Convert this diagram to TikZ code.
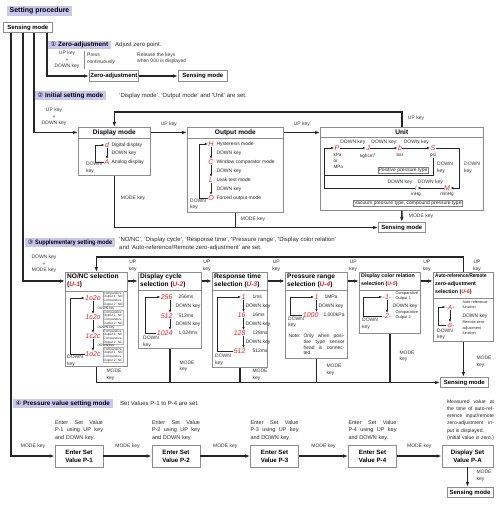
\documentclass[tikz,border=0pt]{standalone}
\usepackage{fontspec}
\setmainfont{Liberation Sans}
\newfontfamily\symfont{DejaVu Sans}
\usetikzlibrary{arrows.meta, positioning, calc}
\definecolor{hl}{RGB}{200,200,238}
\definecolor{segred}{RGB}{232,32,40}
\newcommand{\circnum}[1]{{\symfont\mdseries #1}}
\newcommand{\segtxt}[1]{\textcolor{segred}{\itshape #1}}
\newcommand{\narrow}[1]{\scalebox{0.88}[1]{#1}}

\tikzset{
  tag/.style={fill=hl, anchor=west, inner xsep=2.5bp, inner ysep=1.4bp, font=\bfseries\fontsize{6.4}{7}\selectfont},
  note/.style={anchor=west, inner sep=0bp, align=left, font=\fontsize{6}{8}\selectfont, text=black!85},
  keylbl/.style={inner sep=0bp, align=center, font=\fontsize{5}{6.5}\selectfont, text=black!80},
  sbox/.style={draw=black!45, line width=0.7bp, fill=white, inner sep=1bp, minimum height=10.5bp, font=\bfseries\fontsize{6}{7}\selectfont},
  bigbox/.style={draw=black!45, line width=0.7bp, anchor=north west, inner sep=0bp},
  sep/.style={draw=black!45, line width=0.6bp},
  hdr/.style={anchor=north west, inner sep=0bp, align=left, font=\bfseries\fontsize{6.6}{8}\selectfont},
  flow/.style={draw=black!85, line width=1.4bp},
  arr/.style={flow, -{Latex[length=5bp, width=3.6bp]}},
  loopline/.style={draw=black!85, line width=0.7bp},
  loop/.style={loopline, -{Latex[length=3bp, width=2.4bp]}},
  item/.style={anchor=west, inner sep=0.3bp, align=left, font=\fontsize{5}{5.8}\selectfont, text=black!85},
  tiny/.style={anchor=west, inner sep=0.4bp, align=left, draw=black!30, line width=0.25bp, font=\fontsize{3.2}{3.8}\selectfont, text=black!80},
  seg/.style={inner sep=0.3bp, text=segred, font=\itshape\fontsize{7}{7}\selectfont},
  framed/.style={draw=black!50, line width=0.4bp, fill=white, inner sep=0.8bp, font=\fontsize{5}{5.5}\selectfont, text=black!85},
  vbox/.style={draw=black!45, line width=0.7bp, fill=white, minimum width=48bp, minimum height=22bp, align=center, inner sep=1bp, font=\bfseries\fontsize{6.2}{8}\selectfont},
  desc/.style={inner sep=0bp, text width=48bp, align=left, font=\fontsize{5.5}{7.5}\selectfont, text=black!85}
}

\begin{document}
\begin{tikzpicture}[x=1bp, y=-1bp]
  \useasboundingbox (0,0) rectangle (500,508);

  % Heading
  \node[tag, font=\bfseries\fontsize{7}{8}\selectfont] (title) at (7,11) {Setting procedure};
  \node[sbox, anchor=north west, minimum width=49bp] (sens0) at (3,22) {Sensing mode};

  % (1) Zero-adjustment
  \node[tag] (t1) at (48,45) {\circnum{①} Zero-adjustment};
  \node[note] (t1d) at (115,45) {Adjust zero point.};
  \node[keylbl] (k1) at (67,60) {UP key\\+\\DOWN key};
  \draw[black!45, line width=0.4bp] ([xshift=5bp]k1.north east) -- ([xshift=5bp]k1.south east);
  \node[keylbl, align=left, anchor=west] (press) at (87,59) {Press\\continuously};
  \node[keylbl, align=left, anchor=west] (rel) at (137,58) {Release the keys\\when 000 is displayed};
  \node[sbox, anchor=west, minimum width=49bp] (zadj) at (89,76) {Zero-adjustment};
  \node[sbox, anchor=west, minimum width=49bp] (sens1) at (178,76) {Sensing mode};
  \draw[arr] ([xshift=44bp]sens0.south west) |- (zadj.west);
  \draw[arr] (zadj) -- (sens1);

  % (2) Initial setting mode
  \node[tag] (t2) at (35,95.5) {\circnum{②} Initial setting mode};
  \node[note] (t2d) at (119,96) {‘Display mode’, ‘Output mode’ and ‘Unit’ are set.};
  \node[keylbl] (k2) at (54,117) {UP key\\+\\DOWN key};

  % Display mode
  \node[bigbox, minimum width=72bp, minimum height=48bp] (disp) at (78,127) {};
  \draw[sep] ([yshift=-11bp]disp.north west) -- ([yshift=-11bp]disp.north east);
  \node[hdr, anchor=center] (dispH) at ($(disp.north)+(0,5.5)$) {Display mode};
  \node[seg] (dDig) at (107,145) {d};
  \node[item] (dDigT) at (111,145) {Digital display};
  \node[item] (dDn) at (111,153.5) {DOWN key};
  \node[seg] (dAna) at (107,162) {A};
  \node[item] (dAnaT) at (111,162) {Analog display};
  \draw[loop] (dDig) -- (dAna);
  \draw[loop] (dAna.west) -- ++(-9,0) |- (dDig.west);
  \node[keylbl, align=left, anchor=west] (dLoop) at (86,168) {DOWN\\key};

  % Output mode
  \node[bigbox, minimum width=96bp, minimum height=85bp] (out) at (187,127) {};
  \draw[sep] ([yshift=-11bp]out.north west) -- ([yshift=-11bp]out.north east);
  \node[hdr, anchor=center] (outH) at ($(out.north)+(0,5.5)$) {Output mode};
  \node[seg] (oH) at (211,144) {H};
  \node[item] (oHT) at (216,144) {Hysteresis mode};
  \node[item] (oD1) at (216,153) {DOWN key};
  \node[seg] (oW) at (211,162) {C};
  \node[item] (oWT) at (216,162) {Window comparator mode};
  \node[item] (oD2) at (216,171) {DOWN key};
  \node[seg] (oL) at (211,180) {L};
  \node[item] (oLT) at (216,180) {Leak test mode};
  \node[item] (oD3) at (216,189) {DOWN key};
  \node[seg] (oF) at (211,198) {O};
  \node[item] (oFT) at (216,198) {Forced output mode};
  \draw[loop] (oH) -- (oW);
  \draw[loop] (oW) -- (oL);
  \draw[loop] (oL) -- (oF);
  \draw[loop] (oF.west) -- ++(-8,0) |- (oH.west);
  \node[keylbl, align=left, anchor=west] (oLoop) at (190,204.5) {DOWN\\key};

  % Unit
  \node[bigbox, minimum width=163bp, minimum height=83bp] (unit) at (320,127) {};
  \draw[sep] ([yshift=-10bp]unit.north west) -- ([yshift=-10bp]unit.north east);
  \node[hdr, anchor=center] (unitH) at ($(unit.north)+(0,5)$) {Unit};
  \node[seg] (uP) at (337,148) {P};
  \node[seg] (uJ) at (368,148) {J};
  \node[seg] (uB) at (400,148) {b};
  \node[seg] (uS) at (433,148) {S};
  \node[item, anchor=north west, font=\fontsize{4.6}{6}\selectfont] (uPl) at (333,153) {kPa\\or\\MPa};
  \node[item, anchor=north, font=\fontsize{4.6}{6}\selectfont] (uJl) at (368,153) {kgf/cm\textsuperscript{2}};
  \node[item, anchor=north, font=\fontsize{4.6}{6}\selectfont] (uBl) at (400,153) {bar};
  \node[item, anchor=north, font=\fontsize{4.6}{6}\selectfont] (uSl) at (433,153) {psi};
  \draw[loop] (uP) -- (uJ) node[keylbl, midway, yshift=6bp] (uD1) {DOWN key};
  \draw[loop] (uJ) -- (uB) node[keylbl, midway, yshift=6bp] (uD2) {DOWN key};
  \draw[loop] (uB) -- (uS) node[keylbl, midway, yshift=6bp] (uD3) {DOWN key};
  \node[seg] (uM) at (447,188) {M};
  \node[seg] (uI) at (416,188) {i};
  \node[item, anchor=north, font=\fontsize{4.6}{6}\selectfont] (uIl) at (416,192) {inHg};
  \node[item, anchor=north, font=\fontsize{4.6}{6}\selectfont] (uMl) at (447,192) {mmHg};
  \draw[loop] (uS.east) -- ++(24,0) |- (uM.east);
  \draw[loop] (uM) -- (uI) node[keylbl, midway, yshift=5.5bp] (uD5) {DOWN key};
  \node[keylbl] (uD4) at (400,182.5) {DOWN key};
  \draw[loop] (uI.west) -| ([xshift=-9.5bp]uP.west) -- (uP.west);
  \draw[loopline] (uSl.south) -- ++(0,17) -| ([xshift=-9.5bp]uP.west);
  \node[keylbl, align=left, anchor=west] (uInner) at (437,168) {DOWN\\key};
  \node[keylbl, align=left, anchor=west] (uOuter) at (464,168) {DOWN\\key};
  \node[framed] (posT) at (403,170) {Positive pressure type};
  \node[framed] (vacT) at (408,203.5) {Vacuum pressure type, compound pressure type};

  % Initial mode connectors
  \draw[arr] ([xshift=31bp]sens0.south west) |- (disp.west |- dispH);
  \draw[arr] (disp.east |- dispH) -- (out.west |- dispH) node[keylbl, midway, yshift=8bp] (kDO) {UP key};
  \draw[arr] (out.east |- dispH) -- (unit.west |- dispH) node[keylbl, midway, yshift=8bp] (kOU) {UP key};
  \draw[arr] ([xshift=82bp]unit.north west) -- ++(0,-15) -| (disp.north);
  \node[keylbl] (kUD) at (416,118.5) {UP key};
  \node[sbox, anchor=west, minimum width=47bp] (sens2) at (378,227.5) {Sensing mode};
  \draw[arr] (disp.south) |- (sens2.west);
  \draw[flow] (out.south) -- (out.south |- sens2.west);
  \draw[arr] (unit.south) -- (sens2.north);
  \node[keylbl] (mD) at (133,198) {MODE key};
  \node[keylbl] (mO) at (253,219) {MODE key};
  \node[keylbl] (mU) at (421,216) {MODE key};

  % (3) Supplementary setting mode
  \node[tag] (t3) at (25,242.5) {\circnum{③} \narrow{Supplementary setting mode}};
  \node[note, anchor=north west] (t3d) at (119,236.5) {‘NO/NC’, ‘Display cycle’, ‘Response time’, ‘Pressure range’, ‘Display color relation’\\and ‘Auto-reference/Remote zero-adjustment’ are set.};
  \node[keylbl] (k3) at (44,264) {DOWN key\\+\\MODE key};
  \coordinate (r3) at (0,281);

  % NO/NC selection
  \node[bigbox, minimum width=62bp, minimum height=94bp] (nonc) at (65,272) {};
  \draw[sep] ([yshift=-19bp]nonc.north west) -- ([yshift=-19bp]nonc.north east);
  \node[hdr] (noncH) at ([xshift=2bp,yshift=-1.5bp]nonc.north west) {NO/NC selection\\(\segtxt{U-1})};
  \node[seg] (n1) at (93,298) {1o2o};
  \node[seg] (n2) at (93,317) {1c2o};
  \node[seg] (n3) at (93,336) {1c2c};
  \node[seg] (n4) at (93,354) {1o2c};
  \node[tiny] (n1t) at (103,299) {Comparative\\Output 1: NO\\Comparative\\Output 2: NO};
  \node[tiny] (n2t) at (103,318) {Comparative\\Output 1: NC\\Comparative\\Output 2: NO};
  \node[tiny] (n3t) at (103,337) {Comparative\\Output 1: NC\\Comparative\\Output 2: NC};
  \node[tiny] (n4t) at (103,355) {Comparative\\Output 1: NO\\Comparative\\Output 2: NC};
  \draw[loop] (n1) -- (n2);
  \draw[loop] (n2) -- (n3);
  \draw[loop] (n3) -- (n4);
  \node[item, font=\fontsize{3.4}{4}\selectfont] (nd1) at (97,308.5) {DOWN key};
  \node[item, font=\fontsize{3.4}{4}\selectfont] (nd2) at (97,327.5) {DOWN key};
  \node[item, font=\fontsize{3.4}{4}\selectfont] (nd3) at (97,346) {DOWN key};
  \draw[loop] (n4.west) -- ($(n4.west -| nonc.west)+(5,0)$) |- (n1.west);
  \node[keylbl, align=left, anchor=west] (nLoop) at (67,361) {DOWN\\key};

  % Display cycle selection
  \node[bigbox, minimum width=63bp, minimum height=76bp] (dcyc) at (138,272) {};
  \draw[sep] ([yshift=-18bp]dcyc.north west) -- ([yshift=-18bp]dcyc.north east);
  \node[hdr] (dcycH) at ([xshift=2bp,yshift=-1.5bp]dcyc.north west) {Display cycle\\selection (\segtxt{U-2})};
  \node[seg, anchor=east] (c1) at (173,297) {256};
  \node[seg, anchor=east] (c2) at (173,316) {512};
  \node[seg, anchor=east] (c3) at (173,333) {1024};
  \node[item] (c1t) at (178,297) {256ms};
  \node[item] (c2t) at (178,316) {512ms};
  \node[item] (c3t) at (178,333) {1,024ms};
  \node[item] (cd1) at (175,306.5) {DOWN key};
  \node[item] (cd2) at (175,324.5) {DOWN key};
  \draw[loop] ([xshift=-3bp]c1.south east) -- ([xshift=-3bp]c2.north east);
  \draw[loop] ([xshift=-3bp]c2.south east) -- ([xshift=-3bp]c3.north east);
  \draw[loop] (c3.west) -- ($(c3.west -| dcyc.west)+(7,0)$) |- (c1.west);
  \node[keylbl, align=left, anchor=west] (cLoop) at (143,342) {DOWN\\key};

  % Response time selection
  \node[bigbox, minimum width=55bp, minimum height=95bp] (resp) at (212,272) {};
  \draw[sep] ([yshift=-18bp]resp.north west) -- ([yshift=-18bp]resp.north east);
  \node[hdr] (respH) at ([xshift=2bp,yshift=-1.5bp]resp.north west) {Response time\\selection (\segtxt{U-3})};
  \node[seg, anchor=east] (r1) at (246,297) {1};
  \node[seg, anchor=east] (r2) at (246,315) {16};
  \node[seg, anchor=east] (r3d) at (246,333) {128};
  \node[seg, anchor=east] (r4) at (246,351) {512};
  \node[item] (r1t) at (252,297) {1ms};
  \node[item] (r2t) at (252,315) {16ms};
  \node[item] (r3t) at (252,333) {128ms};
  \node[item] (r4t) at (252,351) {512ms};
  \node[item] (rd1) at (245,306) {DOWN key};
  \node[item] (rd2) at (245,324) {DOWN key};
  \node[item] (rd3) at (245,342) {DOWN key};
  \draw[loop] ([xshift=-2.5bp]r1.south east) -- ([xshift=-2.5bp]r2.north east);
  \draw[loop] ([xshift=-2.5bp]r2.south east) -- ([xshift=-2.5bp]r3d.north east);
  \draw[loop] ([xshift=-2.5bp]r3d.south east) -- ([xshift=-2.5bp]r4.north east);
  \draw[loop] (r4.west) -- ($(r4.west -| resp.west)+(5,0)$) |- (r1.west);
  \node[keylbl, align=left, anchor=west] (rLoop) at (215,360) {DOWN\\key};

  % Pressure range selection
  \node[bigbox, minimum width=62bp, minimum height=86bp] (press) at (285,272) {};
  \draw[sep] ([yshift=-18bp]press.north west) -- ([yshift=-18bp]press.north east);
  \node[hdr] (pressH) at ([xshift=2bp,yshift=-1.5bp]press.north west) {Pressure range\\selection (\segtxt{U-4})};
  \node[seg, anchor=east] (g1) at (319,297) {1};
  \node[seg, anchor=east] (g2) at (319,315) {1000};
  \node[item] (g1t) at (324,297) {1MPa};
  \node[item] (g2t) at (323,315) {1,000kPa};
  \node[item] (gd1) at (318,306) {DOWN key};
  \draw[loop] ([xshift=-2.5bp]g1.south east) -- ([xshift=-2.5bp]g2.north east);
  \draw[loop] (g2.west) -- ($(g2.west -| press.west)+(5,0)$) |- (g1.west);
  \node[keylbl, align=left, anchor=west] (gLoop) at (288,322.5) {DOWN\\key};
  \node[item] (gNote) at (288,336) {Note:};
  \node[item, anchor=north west, text width=41bp, font=\fontsize{5}{5.8}\selectfont] (gNoteT) at (303,333.5) {Only\hfill when\hfill posi-\\tive\hfill type\hfill sensor\\head\hfill is\hfill connec-\\ted.};

  % Display color relation selection
  \node[bigbox, minimum width=61bp, minimum height=61bp] (dcol) at (359,272) {};
  \draw[sep] ([yshift=-18bp]dcol.north west) -- ([yshift=-18bp]dcol.north east);
  \node[hdr, font=\bfseries\fontsize{5.3}{8}\selectfont] (dcolH) at ([xshift=2bp,yshift=-1.5bp]dcol.north west) {Display color relation\\selection (\segtxt{U-5})};
  \node[seg] (e1) at (387,297) {-1-};
  \node[seg] (e2) at (387,316) {-2-};
  \node[item, font=\fontsize{4}{5}\selectfont] (e1t) at (395,296) {Comparative\\Output 1};
  \node[item, font=\fontsize{4}{5}\selectfont] (e2t) at (395,315) {Comparative\\Output 2};
  \node[item] (ed1) at (392,306.5) {DOWN key};
  \draw[loop] (e1) -- (e2);
  \draw[loop] (e2.west) -- ($(e2.west -| dcol.west)+(4,0)$) |- (e1.west);
  \node[keylbl, align=left, anchor=west] (eLoop) at (362,324) {DOWN\\key};

  % Auto-reference/Remote zero-adjustment selection
  \node[bigbox, minimum width=60bp, minimum height=69bp] (auto) at (433,272) {};
  \draw[sep] ([yshift=-26bp]auto.north west) -- ([yshift=-26bp]auto.north east);
  \node[hdr, font=\bfseries\fontsize{5.3}{8}\selectfont] (autoH) at ([xshift=2bp,yshift=-1.5bp]auto.north west) {\narrow{Auto-reference/Remote}\\zero-adjustment\\selection (\segtxt{U-6})};
  \node[seg, font=\itshape\fontsize{6}{6}\selectfont] (a1) at (450,307) {-A-};
  \node[seg, font=\itshape\fontsize{6}{6}\selectfont] (a2) at (450,325) {-B-};
  \node[item, font=\fontsize{3.8}{5}\selectfont] (a1t) at (462,305) {Auto-reference\\function};
  \node[item, font=\fontsize{3.8}{5.5}\selectfont] (a2t) at (462,328) {Remote zero-\\adjustment\\function};
  \node[item] (ad1) at (462,316) {DOWN key};
  \draw[loop] (a1) -- (a2);
  \draw[loop] (a2.west) -- ($(a2.west -| auto.west)+(5,0)$) |- (a1.west);
  \node[keylbl, align=left, anchor=west] (aLoop) at (437,334.5) {DOWN\\key};

  % Supplementary mode connectors
  \draw[arr] ([xshift=20bp]sens0.south west) |- (nonc.west |- r3);
  \draw[arr] (nonc.east |- r3) -- (dcyc.west |- r3) node[keylbl, midway, yshift=15bp] (u1) {UP\\key};
  \draw[arr] (dcyc.east |- r3) -- (resp.west |- r3) node[keylbl, midway, yshift=15bp] (u2) {UP\\key};
  \draw[arr] (resp.east |- r3) -- (press.west |- r3) node[keylbl, midway, yshift=15bp] (u3) {UP\\key};
  \draw[arr] (press.east |- r3) -- (dcol.west |- r3) node[keylbl, midway, yshift=15bp] (u4) {UP\\key};
  \draw[arr] (dcol.east |- r3) -- (auto.west |- r3) node[keylbl, midway, yshift=15bp] (u5) {UP\\key};
  \draw[arr] (auto.north) -- ++(0,-15) -| (nonc.north);
  \node[keylbl] (u6) at (477,266) {UP\\key};
  \node[sbox, anchor=west, minimum width=48bp] (sens3) at (440,382.5) {Sensing mode};
  \draw[arr] (nonc.south) |- (sens3.west);
  \draw[flow] (dcyc.south) -- (dcyc.south |- sens3.west);
  \draw[flow] (resp.south) -- (resp.south |- sens3.west);
  \draw[flow] (press.south) -- (press.south |- sens3.west);
  \draw[flow] (dcol.south) -- (dcol.south |- sens3.west);
  \draw[arr] (auto.south) -- (auto.south |- sens3.north);
  \node[keylbl, align=left] (m1) at (114,375) {MODE\\key};
  \node[keylbl, align=left] (m2) at (187,366.5) {MODE\\key};
  \node[keylbl, align=left] (m3) at (260,375) {MODE\\key};
  \node[keylbl, align=left] (m4) at (334,370) {MODE\\key};
  \node[keylbl, align=left] (m5) at (407,356.5) {MODE\\key};
  \node[keylbl, align=left] (m6) at (484,362) {MODE\\key};

  % (4) Pressure value setting mode
  \node[tag] (t4) at (13,403.5) {\circnum{④} Pressure value setting mode};
  \node[note] (t4d) at (120,403.5) {Set Values P-1 to P-4 are set.};
  \node[vbox] (p1) at (79,456) {Enter Set\\Value P-1};
  \node[vbox] (p2) at (176,456) {Enter Set\\Value P-2};
  \node[vbox] (p3) at (274.5,456) {Enter Set\\Value P-3};
  \node[vbox] (p4) at (372.5,456) {Enter Set\\Value P-4};
  \node[vbox, minimum width=51bp] (pa) at (467.5,456) {Display Set\\Value P-A};
  \node[desc] (p1d) at (79,430.5) {Enter\hfill Set\hfill Value\\P-1\hfill using\hfill UP\hfill key\\and DOWN key.};
  \node[desc] (p2d) at (176,430.5) {Enter\hfill Set\hfill Value\\P-2\hfill using\hfill UP\hfill key\\and DOWN key.};
  \node[desc] (p3d) at (274.5,430.5) {Enter\hfill Set\hfill Value\\P-3\hfill using\hfill UP\hfill key\\and DOWN key.};
  \node[desc] (p4d) at (372.5,430.5) {Enter\hfill Set\hfill Value\\P-4\hfill using\hfill UP\hfill key\\and DOWN key.};
  \node[desc, text width=47bp, font=\fontsize{5.1}{7.2}\selectfont] (pad) at (470.5,420) {Measured\hfill value\hfill at\\the\hfill time\hfill of\hfill auto-ref-\\erence\hfill input/remote\\zero-adjustment\hfill in-\\put is displayed.\\(Initial\hfill value\hfill is\hfill zero.)};
  \draw[arr] ([xshift=8bp]sens0.south west) |- (p1.west);
  \node[keylbl] (mp0) at (33,446) {MODE key};
  \draw[arr] (p1) -- (p2) node[keylbl, midway, yshift=10bp] (mp1) {MODE key};
  \draw[arr] (p2) -- (p3) node[keylbl, midway, yshift=10bp] (mp2) {MODE key};
  \draw[arr] (p3) -- (p4) node[keylbl, midway, yshift=10bp] (mp3) {MODE key};
  \draw[arr] (p4) -- (pa) node[keylbl, midway, yshift=10bp] (mp4) {MODE key};
  \node[sbox, minimum width=46bp] (sens4) at (470,492.5) {Sensing mode};
  \draw[arr] (pa.south) -- (pa.south |- sens4.north);
  \node[keylbl, align=left] (mp5) at (484,476) {MODE\\key};
\end{tikzpicture}
\end{document}
